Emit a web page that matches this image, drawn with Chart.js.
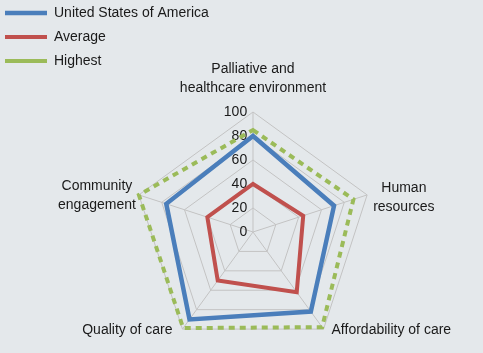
<!DOCTYPE html>
<html><head><meta charset="utf-8">
<script src="https://cdn.jsdelivr.net/npm/chart.js@4.4.1/dist/chart.umd.min.js"></script>
<style>html,body{margin:0;padding:0;background:#e4e8eb;}canvas{display:block;background:#e4e8eb;}</style>
</head><body>
<canvas id="c" width="483" height="353"></canvas>
<script>
// ---- data ----
const categories = [['Palliative and', 'healthcare environment'], ['Human', 'resources'], 'Affordability of care', 'Quality of care', ['Community', 'engagement']];
const seriesNames = ['United States of America', 'Average', 'Highest'];
const usaValues = [80, 71, 82, 90, 76];
const averageValues = [40, 44, 62, 50, 40];
const highestValues = [85, 88, 98, 99, 100];
const tickLabels = ['0', '20', '40', '60', '80', '100'];

// ---- style ----
const FONT = '"Liberation Sans", Arial, sans-serif';
const TEXT = '#1a1a1a';
const GRID = '#c3c3c3';
Chart.defaults.font.family = FONT;
Chart.defaults.font.size = 14;
Chart.defaults.color = TEXT;

// placement of the axis captions relative to each outer vertex
const captionPlacement = [
  {side: 'top', dx: 0, dy: -14},
  {side: 'right', dx: 6, dy: 3},
  {side: 'right', dx: 8, dy: 1},
  {side: 'left', dx: -10, dy: 1},
  {side: 'left', dx: -3, dy: 1}
];
const LINE_H = 19;

const captionPlugin = {
  id: 'captions',
  afterDraw(chart) {
    const s = chart.scales.r, ctx = chart.ctx;
    ctx.save();
    ctx.font = '14px ' + FONT;
    ctx.fillStyle = TEXT;
    ctx.textAlign = 'center';
    ctx.textBaseline = 'middle';
    chart.data.labels.forEach((lab, i) => {
      const lines = Array.isArray(lab) ? lab : [lab];
      const p = s.getPointPosition(i, s.drawingArea);
      const wmax = Math.max(...lines.map(l => ctx.measureText(l).width));
      const hb = lines.length * LINE_H;
      const pl = captionPlacement[i];
      let cx, cy;
      if (pl.side === 'top') { cx = p.x + pl.dx; cy = p.y + pl.dy - hb / 2; }
      else if (pl.side === 'right') { cx = p.x + pl.dx + wmax / 2; cy = p.y + pl.dy; }
      else { cx = p.x + pl.dx - wmax / 2; cy = p.y + pl.dy; }
      lines.forEach((l, k) => ctx.fillText(l, cx, cy - hb / 2 + LINE_H / 2 + k * LINE_H));
    });
    ctx.restore();
  }
};

const legendPlacement = {
  id: 'legendPlacement',
  afterLayout(chart) {
    if (chart.legend) { chart.legend.left = -5; chart.legend.top = -4; }
  }
};

new Chart(document.getElementById('c'), {
  type: 'radar',
  data: {
    labels: categories,
    datasets: [
      {label: seriesNames[0], data: usaValues, borderColor: '#4a7ebb', backgroundColor: '#4a7ebb', borderWidth: 4.5, fill: false, pointRadius: 0, pointHoverRadius: 0, borderJoinStyle: 'miter'},
      {label: seriesNames[1], data: averageValues, borderColor: '#c0504d', backgroundColor: '#c0504d', borderWidth: 4, fill: false, pointRadius: 0, pointHoverRadius: 0, borderJoinStyle: 'miter'},
      {label: seriesNames[2], data: highestValues, borderColor: '#9bbb59', backgroundColor: '#9bbb59', borderWidth: 4, borderDash: [6, 5], fill: false, pointRadius: 0, pointHoverRadius: 0, borderJoinStyle: 'miter'}
    ]
  },
  options: {
    responsive: false,
    devicePixelRatio: 1,
    animation: false,
    layout: {padding: {left: 132, top: 112, right: 109, bottom: 0}},
    plugins: {
      legend: {
        position: 'chartArea',
        align: 'start',
        labels: {usePointStyle: true, pointStyle: 'line', pointStyleWidth: 42, padding: 10, color: TEXT, font: {size: 14, family: FONT}}
      },
      tooltip: {enabled: false}
    },
    scales: {
      r: {
        min: -0.001,
        suggestedMax: 100,
        ticks: {
          stepSize: 20,
          includeBounds: false,
          showLabelBackdrop: false,
          backdropPadding: -7,
          color: TEXT,
          font: {size: 14, family: FONT},
          callback: (v, i) => tickLabels[i] + ' '.repeat(2 * tickLabels[i].length + 3)
        },
        grid: {color: (c) => c.index === 0 ? 'rgba(0,0,0,0)' : GRID, lineWidth: 1},
        angleLines: {color: GRID, lineWidth: 1},
        pointLabels: {display: false}
      }
    }
  },
  plugins: [captionPlugin, legendPlacement]
});
</script>
</body></html>
